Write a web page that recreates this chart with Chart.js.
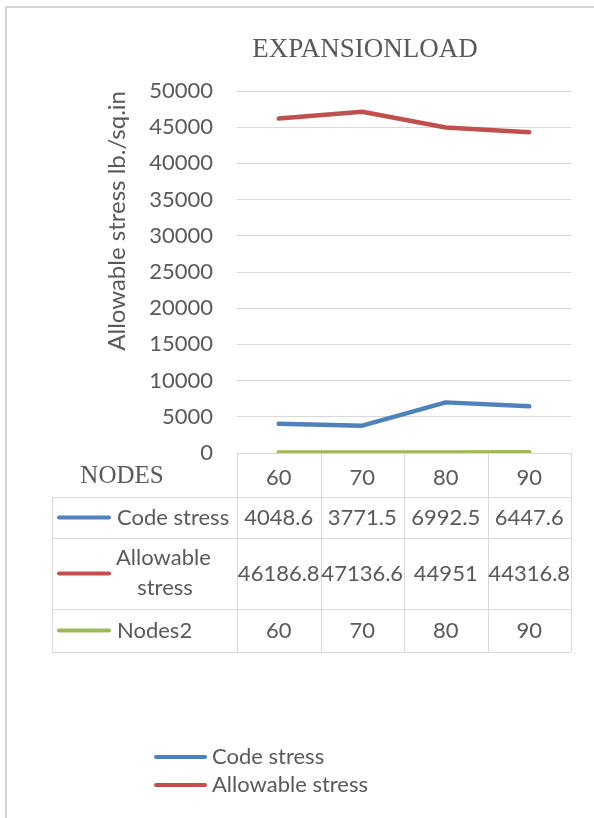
<!DOCTYPE html>
<html>
<head>
<meta charset="utf-8">
<script src="https://cdn.jsdelivr.net/npm/chart.js@4.4.1/dist/chart.umd.min.js"></script>
<style>
  html, body { margin: 0; padding: 0; background: #ffffff; }
  #wrap { position: relative; width: 594px; height: 818px; overflow: hidden; }
  #frame { position: absolute; left: 5px; top: 6px; width: 600px; height: 830px;
           border-top: 2px solid #d4d4d4; border-left: 2px solid #d4d4d4; box-sizing: border-box; }
  canvas { position: absolute; left: 0; top: 0; }
</style>
</head>
<body>
<div id="wrap">
  <div id="frame"></div>
  <canvas id="c" width="594" height="818"></canvas>
</div>
<script>
// ---- data ----
const categories = ['60', '70', '80', '90'];
const seriesNames = ['Code stress', 'Allowable stress', 'Nodes2'];
const codeStress = [4048.6, 3771.5, 6992.5, 6447.6];
const allowableStress = [46186.8, 47136.6, 44951, 44316.8];
const nodes2 = [60, 70, 80, 90];
const yMin = 0, yMax = 50000, yStep = 5000;
const chartTitle = 'EXPANSIONLOAD';
const yTitle = 'Allowable stress lb./sq.in';
const tableHeader = 'NODES';

const COLORS = ['#4F81BD', '#C0504D', '#9BBB59'];
const TEXT = '#595959';
const GRID = '#d9d9d9';
const SANS = 'Lato, "Open Sans", sans-serif';
const SERIF = '"Liberation Serif", "DejaVu Serif", serif';

const seriesValues = [codeStress, allowableStress, nodes2];

// ---- plugin: title, data table + legend ----
const tablePlugin = {
  id: 'dataTable',
  afterDraw(chart) {
    const ctx = chart.ctx;
    const x = chart.scales.x;
    const area = chart.chartArea;
    const n = categories.length;
    const colW = (area.right - area.left) / n;
    const bounds = [];
    for (let i = 0; i <= n; i++) bounds.push(area.left + i * colW);

    ctx.save();
    // chart title
    ctx.fillStyle = TEXT;
    ctx.font = '27px ' + SERIF;
    ctx.textAlign = 'center';
    ctx.textBaseline = 'middle';
    ctx.fillText(chartTitle, 365, 50);

    const headTop = area.bottom;
    const headBottom = x.bottom;
    const rows = [[headBottom, headBottom + 41], [headBottom + 41, headBottom + 112], [headBottom + 112, headBottom + 155]];
    const tableLeft = 52;

    ctx.strokeStyle = GRID;
    ctx.lineWidth = 1;
    ctx.beginPath();
    bounds.forEach(b => { ctx.moveTo(Math.round(b) + 0.5, headTop); ctx.lineTo(Math.round(b) + 0.5, headBottom); });
    rows.forEach(r => {
      ctx.moveTo(tableLeft, Math.round(r[0]) + 0.5); ctx.lineTo(area.right, Math.round(r[0]) + 0.5);
      ctx.moveTo(tableLeft, Math.round(r[1]) + 0.5); ctx.lineTo(area.right, Math.round(r[1]) + 0.5);
    });
    const bodyTop = rows[0][0], bodyBottom = rows[rows.length - 1][1];
    ctx.moveTo(tableLeft + 0.5, bodyTop); ctx.lineTo(tableLeft + 0.5, bodyBottom);
    bounds.forEach(b => { ctx.moveTo(Math.round(b) + 0.5, bodyTop); ctx.lineTo(Math.round(b) + 0.5, bodyBottom); });
    ctx.stroke();

    // header label
    ctx.fillStyle = TEXT;
    ctx.font = '25px ' + SERIF;
    ctx.textAlign = 'center';
    ctx.textBaseline = 'middle';
    ctx.fillText(tableHeader, 122, (headTop + headBottom) / 2 + 1);

    // rows
    seriesNames.forEach((name, s) => {
      const [t, b] = rows[s];
      const mid = (t + b) / 2;
      ctx.strokeStyle = COLORS[s];
      ctx.lineWidth = 4;
      ctx.lineCap = 'round';
      ctx.beginPath();
      ctx.moveTo(59, mid); ctx.lineTo(109, mid);
      ctx.stroke();
      ctx.fillStyle = TEXT;
      ctx.font = '22px ' + SANS;
      if (name === 'Allowable stress') {
        ctx.textAlign = 'left';
        ctx.fillText('Allowable', 116, mid - 16);
        ctx.textAlign = 'center';
        ctx.fillText('stress', 165, mid + 14);
      } else {
        ctx.textAlign = 'left';
        ctx.fillText(name, 117, mid);
      }
      ctx.textAlign = 'center';
      seriesValues[s].forEach((v, i) => {
        ctx.fillText(String(v), x.getPixelForValue(i), mid);
      });
    });

    // legend (first two series)
    [0, 1].forEach((s, k) => {
      const y = 757 + k * 28;
      ctx.strokeStyle = COLORS[s];
      ctx.lineWidth = 4;
      ctx.lineCap = 'round';
      ctx.beginPath();
      ctx.moveTo(156, y); ctx.lineTo(205, y);
      ctx.stroke();
      ctx.fillStyle = TEXT;
      ctx.font = '22px ' + SANS;
      ctx.textAlign = 'left';
      ctx.textBaseline = 'middle';
      ctx.fillText(seriesNames[s], 212, y);
    });
    ctx.restore();
  }
};

new Chart(document.getElementById('c'), {
  type: 'line',
  data: {
    labels: categories,
    datasets: seriesValues.map((vals, s) => ({
      label: seriesNames[s],
      data: vals,
      borderColor: COLORS[s],
      backgroundColor: COLORS[s],
      borderWidth: 4.5,
      pointRadius: 0,
      tension: 0,
      borderCapStyle: 'round',
      borderJoinStyle: 'round'
    }))
  },
  options: {
    responsive: false,
    animation: false,
    devicePixelRatio: 1,
    layout: { padding: { left: 0, right: 23, top: 91, bottom: 321 } },
    plugins: {
      legend: { display: false },
      tooltip: { enabled: false },
      title: { display: false }
    },
    scales: {
      x: {
        type: 'category',
        offset: true,
        grid: { display: false, drawTicks: false },
        border: { display: true, color: GRID, width: 1 },
        ticks: { color: TEXT, font: { family: SANS, size: 22 }, padding: 12 },
        afterFit(scale) { scale.height = 44; }
      },
      y: {
        min: yMin, max: yMax,
        ticks: {
          stepSize: yStep, color: TEXT, font: { family: SANS, size: 22 }, padding: 24,
          callback: (v) => String(v)
        },
        grid: { color: GRID, lineWidth: 1, drawTicks: false },
        border: { display: false },
        title: {
          display: true, text: yTitle, color: TEXT, align: 'end',
          font: { family: SANS, size: 24 }, padding: { top: 103, bottom: 0 }
        },
        afterFit(scale) { scale.width = 237; }
      }
    }
  },
  plugins: [tablePlugin]
});
</script>
</body>
</html>
